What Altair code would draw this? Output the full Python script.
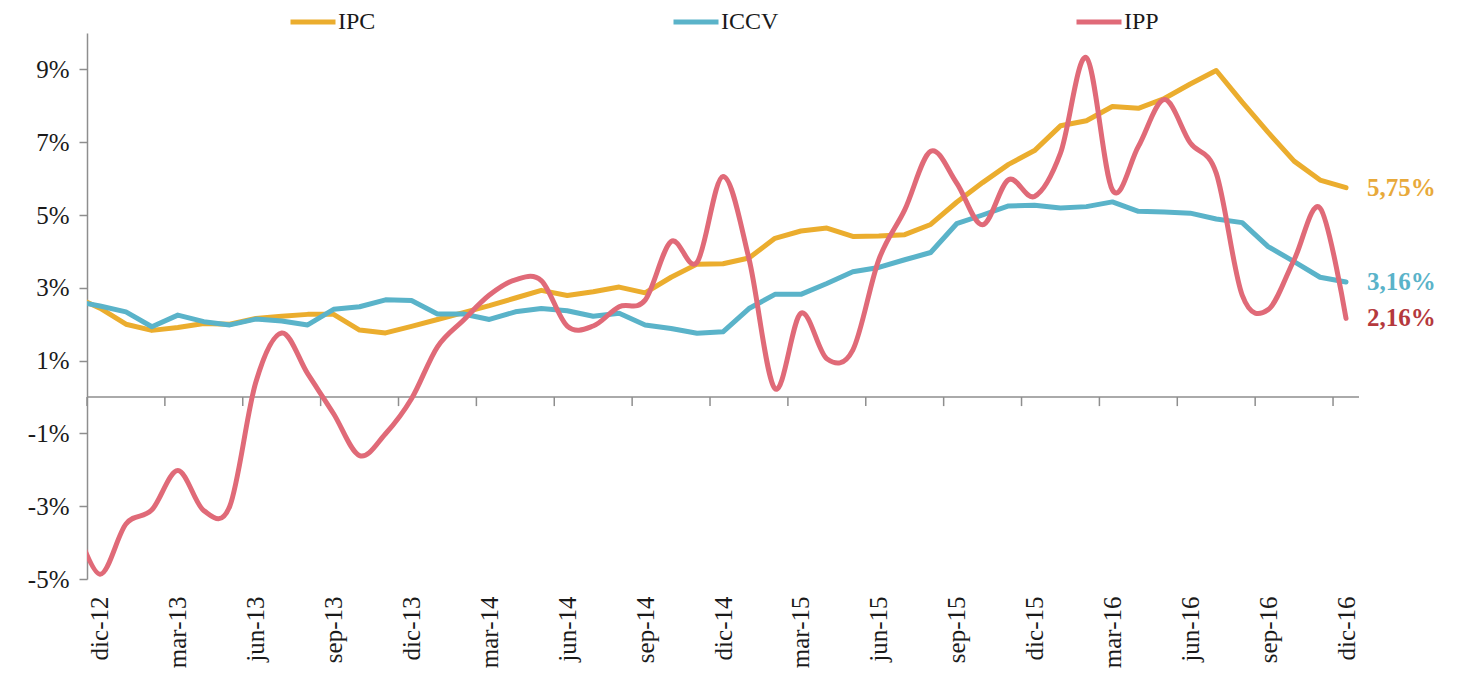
import json
import altair as alt
import pandas as pd

# ---- data ----
# month index: -1 = nov-12 (clipped at the axis), 0 = dic-12 ... 48 = dic-16
month_index = list(range(-1, 49))

ipc = [2.77, 2.44,
       2.00, 1.83, 1.91, 2.02, 2.00, 2.16, 2.22, 2.27, 2.27, 1.84, 1.76, 1.94,
       2.13, 2.32, 2.51, 2.72, 2.93, 2.79, 2.89, 3.02, 2.86, 3.29, 3.65, 3.66,
       3.82, 4.36, 4.56, 4.64, 4.41, 4.42, 4.46, 4.74, 5.35, 5.89, 6.39, 6.77,
       7.45, 7.59, 7.98, 7.93, 8.20, 8.60, 8.97, 8.10, 7.27, 6.48, 5.96, 5.75]

iccv = [2.64, 2.50,
        2.34, 1.93, 2.25, 2.07, 1.98, 2.14, 2.09, 1.98, 2.41, 2.48, 2.67, 2.65,
        2.28, 2.28, 2.13, 2.34, 2.43, 2.37, 2.22, 2.30, 1.98, 1.88, 1.75, 1.79,
        2.43, 2.82, 2.82, 3.12, 3.44, 3.56, 3.77, 3.97, 4.76, 5.00, 5.25, 5.27,
        5.19, 5.23, 5.36, 5.10, 5.08, 5.05, 4.89, 4.79, 4.13, 3.72, 3.29, 3.16]

ipp = [-3.40, -4.87,
       -3.49, -3.10, -2.02, -3.12, -3.00, 0.40, 1.76, 0.64, -0.46, -1.61, -1.01, -0.05,
       1.38, 2.11, 2.80, 3.22, 3.20, 1.95, 1.95, 2.48, 2.66, 4.27, 3.70, 6.06,
       3.80, 0.23, 2.30, 1.05, 1.29, 3.77, 5.14, 6.75, 5.88, 4.73, 5.97, 5.51,
       6.70, 9.32, 5.69, 6.88, 8.17, 6.98, 6.15, 2.80, 2.40, 3.77, 5.19, 2.16]

series_names = ["IPC", "ICCV", "IPP"]
series_colors = ["#EBAD2E", "#5AB3C9", "#E06A78"]
end_texts = ["5,75%", "3,16%", "2,16%"]
end_colors = ["#E8A93A", "#5AB3C9", "#B5393D"]

tick_idx = list(range(0, 49, 3))
tick_labels = ["dic-12", "mar-13", "jun-13", "sep-13", "dic-13", "mar-14", "jun-14",
               "sep-14", "dic-14", "mar-15", "jun-15", "sep-15", "dic-15", "mar-16",
               "jun-16", "sep-16", "dic-16"]
y_ticks = [-5, -3, -1, 1, 3, 5, 7, 9]

# ---- tables ----
def series_df(name, vals):
    return pd.DataFrame({"idx": month_index, "valor": vals, "serie": name})

df_ipc = series_df("IPC", ipc)
df_iccv = series_df("ICCV", iccv)
df_ipp = series_df("IPP", ipp)

df_end = pd.DataFrame({
    "idx": [month_index[-1]] * 3,
    "valor": [ipc[-1], iccv[-1], ipp[-1]],
    "txt": end_texts,
    "col": end_colors,
})
df_zero = pd.DataFrame({"v": [0]})
df_ticks = pd.DataFrame({"b": [t - 0.5 for t in tick_idx], "y0": 0.0, "y1": -0.25})

GRAY = "#8E8E8E"
FONT = "Liberation Serif"
TXT = "#1A1A1A"

XS = alt.Scale(domain=[-0.5, 48.5], nice=False, zero=False)
YS = alt.Scale(domain=[-5, 10], nice=False, zero=False)

XAX = alt.Axis(values=tick_idx, labelExpr=json.dumps(tick_labels) + "[round(datum.value/3)]",
               labelAngle=-90, domain=False, ticks=False, grid=False, labelPadding=17,
               labelFont=FONT, labelFontSize=25, labelColor=TXT, title=None)
YAX = alt.Axis(values=y_ticks, labelExpr="datum.value + '%'", grid=False,
               domainColor=GRAY, domainWidth=1.5, tickColor=GRAY, tickWidth=1.5, tickSize=8,
               labelPadding=10, labelFont=FONT, labelFontSize=25, labelColor=TXT, title=None)

color_enc = alt.Color(
    "serie:N",
    scale=alt.Scale(domain=series_names, range=series_colors),
    legend=alt.Legend(title=None, orient="none", legendX=201, legendY=-36,
                      direction="horizontal", symbolType="stroke", symbolSize=2025,
                      symbolStrokeWidth=5, labelFont=FONT, labelFontSize=24,
                      labelColor=TXT, columnPadding=287, labelOffset=0),
)

zero = alt.Chart(df_zero).mark_rule(color=GRAY, strokeWidth=1.5).encode(
    y=alt.Y("v:Q", scale=YS, axis=YAX))

ticks = alt.Chart(df_ticks).mark_rule(color=GRAY, strokeWidth=1.5).encode(
    x=alt.X("b:Q", scale=XS, axis=XAX),
    y=alt.Y("y0:Q", scale=YS, axis=YAX),
    y2="y1:Q")

def line(df, interp):
    return alt.Chart(df).mark_line(strokeWidth=5, interpolate=interp, clip=True,
                                   strokeCap="round", strokeJoin="round").encode(
        x=alt.X("idx:Q", scale=XS, axis=XAX),
        y=alt.Y("valor:Q", scale=YS, axis=YAX),
        color=color_enc)

end_lbl = alt.Chart(df_end).mark_text(align="left", baseline="middle", dx=21,
                                      font=FONT, fontSize=25, fontWeight="bold").encode(
    x=alt.X("idx:Q", scale=XS, axis=XAX),
    y=alt.Y("valor:Q", scale=YS, axis=YAX),
    text="txt:N",
    color=alt.Color("col:N", scale=None))

chart = alt.layer(
    zero, ticks, line(df_ipc, "linear"), line(df_iccv, "linear"), line(df_ipp, "cardinal"), end_lbl
).properties(
    width=1272, height=546,
    autosize=alt.AutoSizeParams(type="none"),
    padding={"left": 79, "top": 25, "right": 90, "bottom": 91},
    background="white",
).configure_view(stroke=None)

chart.save("out.html", embed_options={"renderer": "svg", "actions": False})
